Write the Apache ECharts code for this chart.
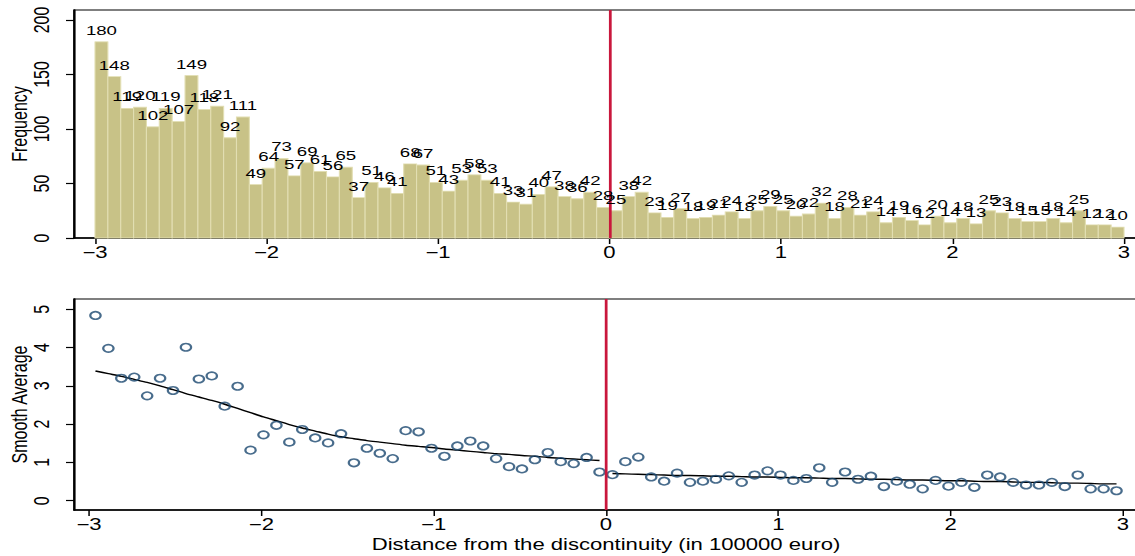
<!DOCTYPE html>
<html>
<head>
<meta charset="utf-8">
<script src="https://cdn.jsdelivr.net/npm/echarts@6/dist/echarts.min.js"></script>
<style>
  html, body { margin: 0; padding: 0; background: #fff; overflow: hidden; }
  #chart { height: 556px; transform-origin: 0 0; }
</style>
</head>
<body>
<div id="chart"></div>
<script>
// histogram counts, 80 bins of 0.075 from -3 to 3
var freq = [
  180, 148, 119, 120, 102, 119, 107, 149, 118, 121, 92, 111, 49, 64, 73, 57, 69, 61, 56, 65,
  37, 51, 46, 41, 68, 67, 51, 43, 53, 58, 53, 41, 33, 31, 40, 47, 38, 36, 42, 28,
  25, 38, 42, 23, 19, 27, 18, 19, 21, 24, 18, 25, 29, 25, 20, 22, 32, 18, 28, 21,
  24, 14, 19, 16, 12, 20, 14, 18, 13, 25, 23, 18, 15, 15, 18, 14, 25, 12, 12, 10
];
// smooth average per bin (circles)
var smoothAvg = [
  4.84, 3.98, 3.20, 3.23, 2.74, 3.20, 2.88, 4.01, 3.18, 3.26, 2.47, 2.99, 1.32, 1.72, 1.97, 1.53, 1.86, 1.64, 1.51, 1.75,
  0.99, 1.37, 1.24, 1.10, 1.83, 1.80, 1.37, 1.16, 1.43, 1.56, 1.43, 1.10, 0.89, 0.83, 1.07, 1.26, 1.02, 0.97, 1.13, 0.75,
  0.68, 1.02, 1.14, 0.62, 0.51, 0.72, 0.48, 0.51, 0.56, 0.65, 0.48, 0.67, 0.78, 0.67, 0.53, 0.58, 0.86, 0.48, 0.75, 0.56,
  0.64, 0.37, 0.51, 0.43, 0.31, 0.53, 0.38, 0.48, 0.35, 0.67, 0.62, 0.48, 0.41, 0.41, 0.48, 0.37, 0.67, 0.31, 0.31, 0.26
];
// fitted curve left and right of the discontinuity
var fitLeft = [
  3.39, 3.32, 3.25, 3.17, 3.09, 3.00, 2.90, 2.80, 2.71, 2.62, 2.52, 2.41, 2.30, 2.19, 2.09, 1.99, 1.90, 1.82, 1.74, 1.67,
  1.62, 1.57, 1.53, 1.49, 1.45, 1.42, 1.39, 1.35, 1.32, 1.29, 1.26, 1.23, 1.21, 1.18, 1.16, 1.13, 1.11, 1.09, 1.07, 1.05
];
var fitRight = [
  0.71, 0.70, 0.69, 0.68, 0.67, 0.66, 0.66, 0.65, 0.64, 0.64, 0.63, 0.62, 0.62, 0.61, 0.60, 0.60, 0.59, 0.58, 0.58, 0.57,
  0.56, 0.56, 0.55, 0.54, 0.54, 0.53, 0.52, 0.52, 0.51, 0.50, 0.50, 0.49, 0.48, 0.48, 0.47, 0.46, 0.46, 0.45, 0.44, 0.44
];
var xTicks = [-3, -2, -1, 0, 1, 2, 3];
var freqTicks = [0, 50, 100, 150, 200];
var avgTicks = [0, 1, 2, 3, 4, 5];

var binStart = -3;
var binWidth = 0.075;
var binCenters = freq.map(function (_, i) { return binStart + binWidth * (i + 0.5); });

var FONT = '"Liberation Sans", Arial, Helvetica, sans-serif';
// the picture is horizontally stretched, so draw narrow and scale in x
var W = 822;
var S = 1135 / W;
var el = document.getElementById('chart');
el.style.width = W + 'px';
el.style.transform = 'scaleX(' + S + ')';

function px(v) { return v / S; }
function fmt(v) { return v < 0 ? '\u2212' + Math.abs(v) : String(v); }

function xAxisOpt(gi, min, max, name) {
  return {
    type: 'value', gridIndex: gi, min: min, max: max,
    name: name, nameLocation: 'middle', nameGap: 27, nameMoveOverlap: false,
    nameTextStyle: { fontSize: 16, color: '#000', fontFamily: FONT },
    axisLine: { show: true, onZero: false, lineStyle: { color: '#000', width: 1.5 } },
    axisTick: { show: true, length: 6, customValues: xTicks, lineStyle: { color: '#000', width: 1.1 } },
    axisLabel: { customValues: xTicks, margin: 7, fontSize: 16, color: '#000', fontFamily: FONT, formatter: fmt },
    splitLine: { show: false }
  };
}
function yAxisOpt(gi, min, max, ticks, name) {
  return {
    type: 'value', gridIndex: gi, min: min, max: max,
    name: name, nameLocation: 'middle', nameGap: px(43), nameRotate: 90, nameMoveOverlap: false,
    nameTextStyle: { fontSize: 16, color: '#000', fontFamily: FONT },
    axisLine: { show: true, onZero: false, lineStyle: { color: '#000', width: 1.5 } },
    axisTick: { show: true, length: px(8), customValues: ticks, lineStyle: { color: '#000', width: 1.2 } },
    axisLabel: { customValues: ticks, rotate: 90, margin: px(21), fontSize: 16, color: '#000', fontFamily: FONT, formatter: fmt },
    splitLine: { show: false }
  };
}

var redLine = {
  silent: true, symbol: 'none',
  label: { show: false },
  lineStyle: { color: '#c9173c', width: 2, type: 'solid' },
  data: [{ xAxis: 0 }]
};

var freqData = binCenters.map(function (x, i) { return [x, freq[i]]; });

var option = {
  animation: false,
  backgroundColor: '#fff',
  grid: [
    { left: px(74), top: 10, width: px(1064), height: 228, show: true, borderColor: '#000', borderWidth: 1.2, outerBoundsMode: 'none', containLabel: false },
    { left: px(74), top: 299, width: px(1064), height: 211, show: true, borderColor: '#000', borderWidth: 1.2, outerBoundsMode: 'none', containLabel: false }
  ],
  xAxis: [
    xAxisOpt(0, -3 - 21 / 171.5, -3 - 21 / 171.5 + 1064 / 171.5, ''),
    xAxisOpt(1, -3 - 15 / 172.33, -3 - 15 / 172.33 + 1064 / 172.33, 'Distance from the discontinuity (in 100000 euro)')
  ],
  yAxis: [
    yAxisOpt(0, 0, 209.2, freqTicks, 'Frequency'),
    yAxisOpt(1, -0.243, 5.27, avgTicks, 'Smooth Average')
  ],
  series: [
    {
      // histogram bars
      type: 'custom', xAxisIndex: 0, yAxisIndex: 0,
      data: freqData,
      renderItem: function (params, api) {
        var x = api.value(0), y = api.value(1);
        var p0 = api.coord([x - binWidth / 2, y]);
        var p1 = api.coord([x + binWidth / 2, 0]);
        return {
          type: 'rect',
          shape: { x: p0[0], y: p0[1], width: p1[0] - p0[0], height: p1[1] - p0[1] },
          style: { fill: '#c8c287', stroke: '#e2deb2', lineWidth: 0.8 }
        };
      },
      markLine: redLine,
      z: 2
    },
    {
      // bar count labels, drawn above all bars
      type: 'custom', xAxisIndex: 0, yAxisIndex: 0,
      data: freqData,
      renderItem: function (params, api) {
        var x = api.value(0), y = api.value(1);
        var p = api.coord([x, y]);
        return {
          type: 'text',
          x: p[0], y: p[1] - 5,
          style: { text: String(y), align: 'center', verticalAlign: 'bottom', fontSize: 13.5, fill: '#000', fontFamily: FONT }
        };
      },
      z: 5
    },
    {
      type: 'line', xAxisIndex: 1, yAxisIndex: 1,
      data: binCenters.slice(0, 40).map(function (x, i) { return [x, fitLeft[i]]; }),
      showSymbol: false, smooth: 0.3,
      lineStyle: { color: '#000', width: 1.4 },
      markLine: redLine,
      z: 3
    },
    {
      type: 'line', xAxisIndex: 1, yAxisIndex: 1,
      data: binCenters.slice(40).map(function (x, i) { return [x, fitRight[i]]; }),
      showSymbol: false, smooth: 0.3,
      lineStyle: { color: '#000', width: 1.4 },
      z: 3
    },
    {
      type: 'scatter', xAxisIndex: 1, yAxisIndex: 1,
      data: binCenters.map(function (x, i) { return [x, smoothAvg[i]]; }),
      symbol: 'circle', symbolSize: 7.5,
      itemStyle: { color: 'rgba(0,0,0,0)', borderColor: '#1a476f', borderWidth: 1.6 },
      z: 4
    }
  ]
};

var chart = echarts.init(el, null, { renderer: 'svg' });
chart.setOption(option);
</script>
</body>
</html>
